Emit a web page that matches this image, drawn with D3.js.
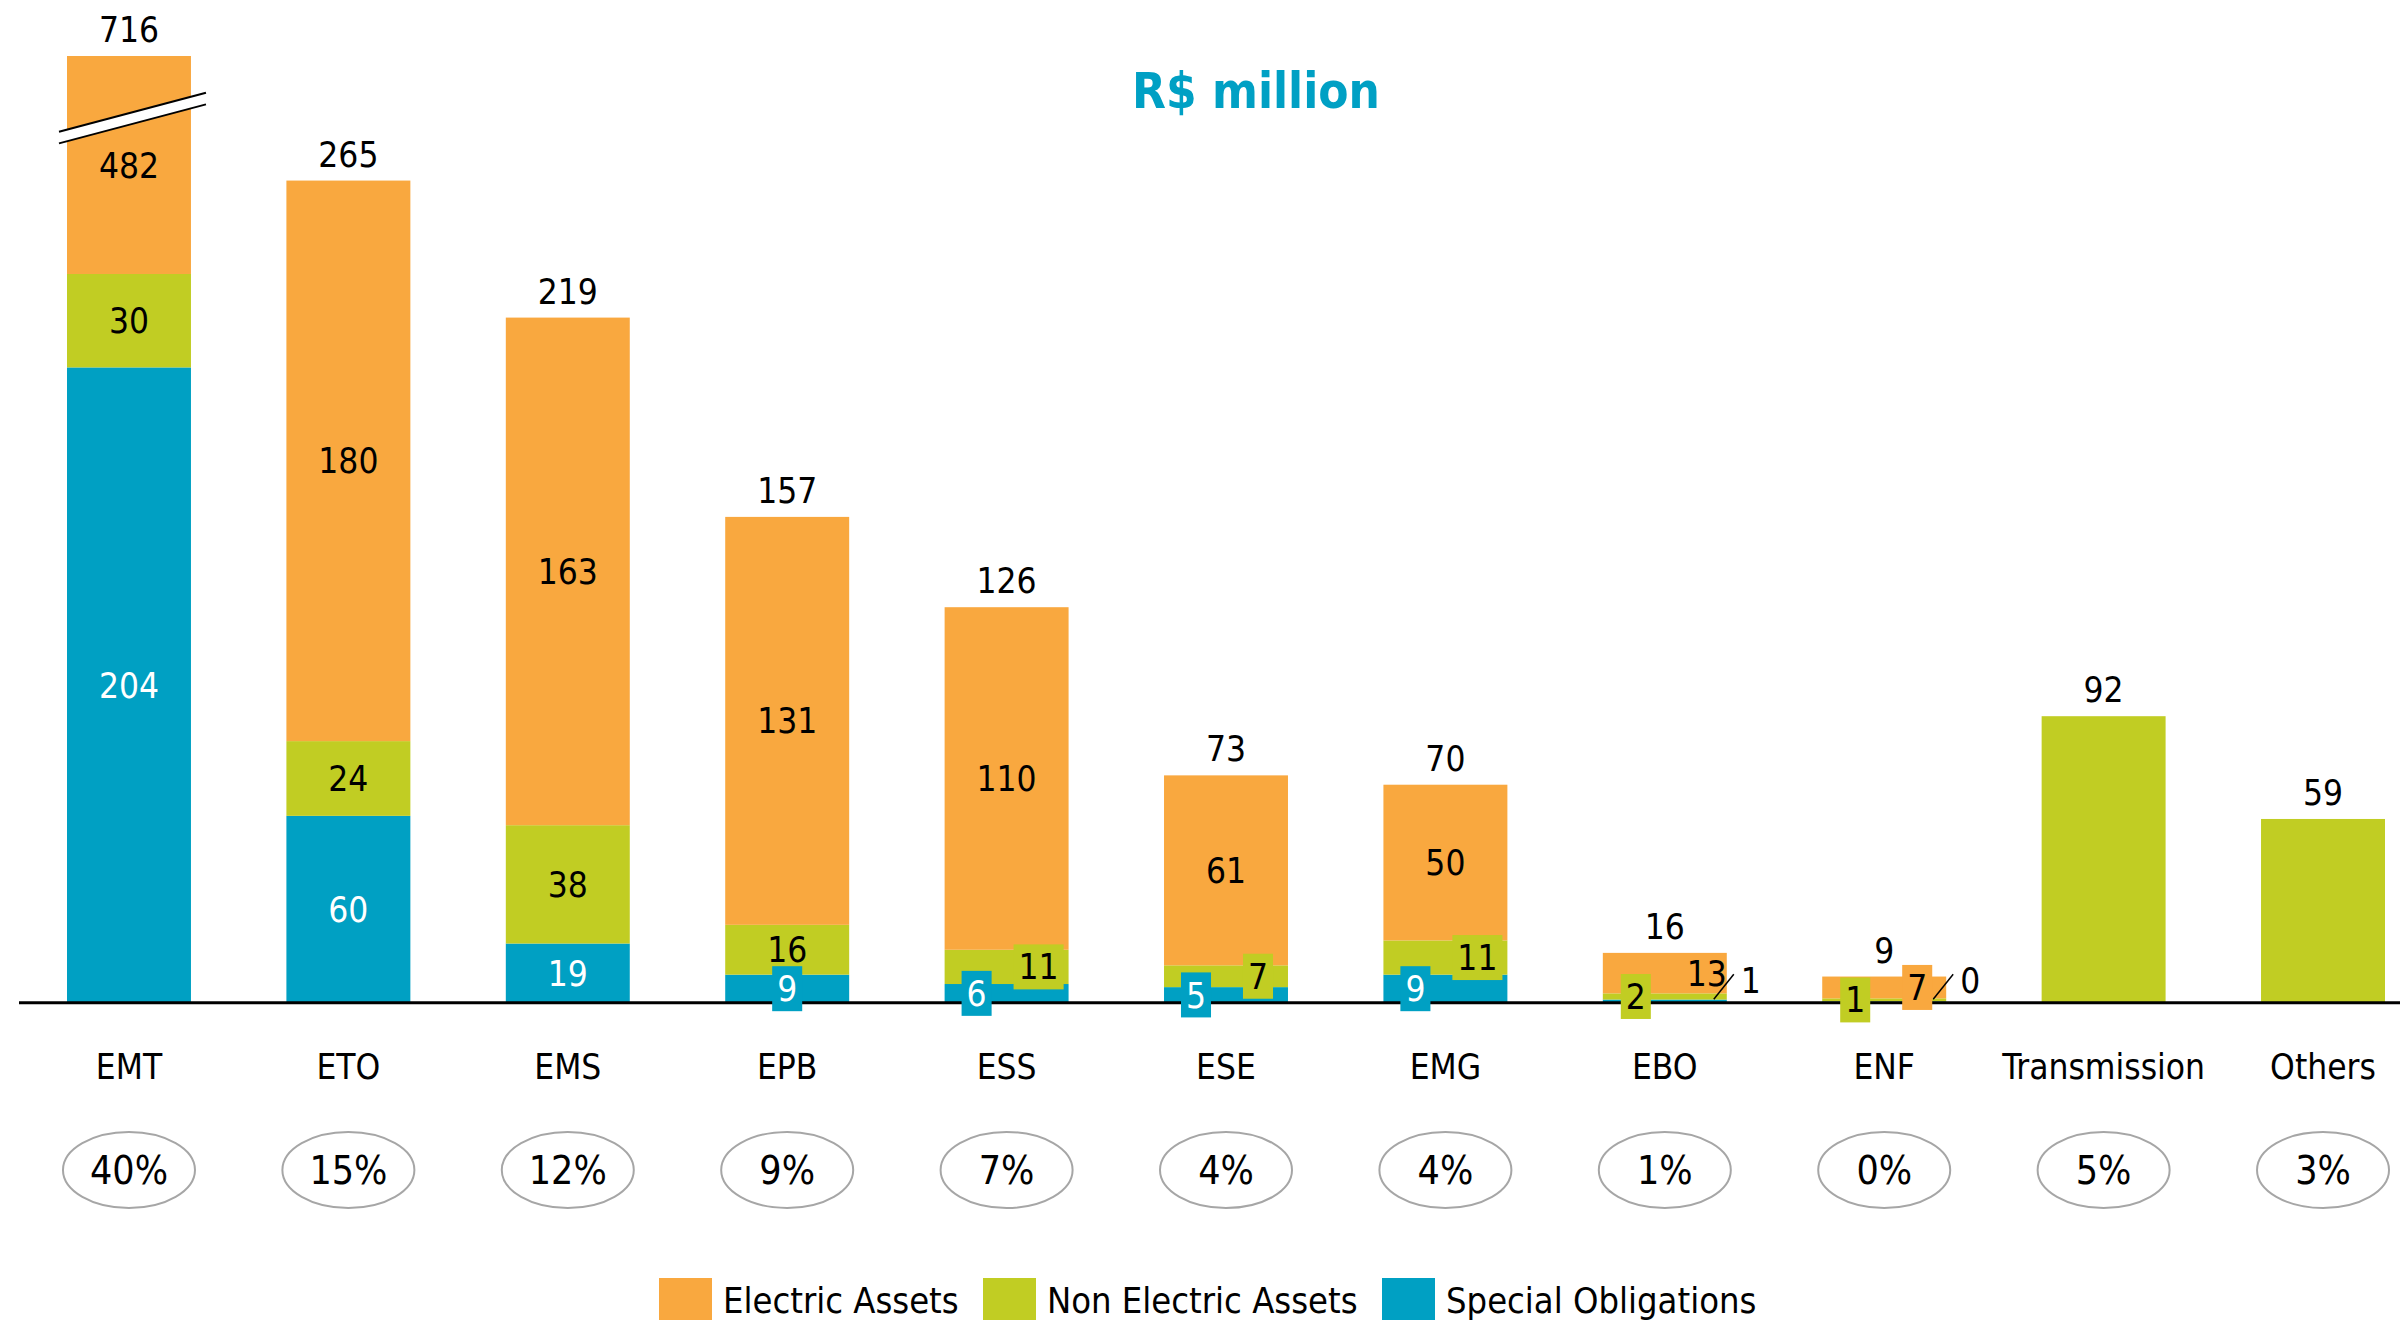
<!DOCTYPE html>
<html>
<head>
<meta charset="utf-8">
<script src="https://cdn.jsdelivr.net/npm/d3@7"></script>
<style>
  body { margin: 0; background: #fff; }
  svg text { font-family: "DejaVu Sans Condensed", "DejaVu Sans", sans-serif; font-stretch: condensed; }
</style>
</head>
<body>
<div id="chart"></div>
<script>
// data (R$ million)
const categories = ["EMT", "ETO", "EMS", "EPB", "ESS", "ESE", "EMG", "EBO", "ENF", "Transmission", "Others"];
const specialObligations = [204, 60, 19, 9, 6, 5, 9, 1, 0.4, 0, 0];
const nonElectricAssets = [30, 24, 38, 16, 11, 7, 11, 2, 1, 92, 59];
const electricAssets = [482, 180, 163, 131, 110, 61, 50, 13, 7, 0, 0];
const totals = [716, 265, 219, 157, 126, 73, 70, 16, 9, 92, 59];
const shares = ["40%", "15%", "12%", "9%", "7%", "4%", "4%", "1%", "0%", "5%", "3%"];
const seriesKeys = ["special", "nonElectric", "electric"];
const seriesNames = { electric: "Electric Assets", nonElectric: "Non Electric Assets", special: "Special Obligations" };
const legendOrder = ["electric", "nonElectric", "special"];

const colors = { electric: "#F9A83F", nonElectric: "#C1CD23", special: "#00A0C3" };

const svgWidth = 2400,
    svgHeight = 1320,
    baseY = 1002.7,
    breakCap = 304; // EMT bar is cut at this value (axis break)

// small-segment label tweaks: offset of the boxed label from bar centre, or another mode
const defaultDx = { special: -30, nonElectric: 32, electric: 33 };
const labelTweaks = {
    "EPB|special": { dx: 0 },
    "EBO|nonElectric": { dx: -29 },
    "ENF|nonElectric": { dx: -29 },
    "EBO|electric": { mode: "plain", dx: 42 },
    "EBO|special": { mode: "leader" },
    "ENF|special": { mode: "leader" }
};

let rows = categories.map((c, i) => ({
    cat: c,
    special: specialObligations[i],
    nonElectric: nonElectricAssets[i],
    electric: electricAssets[i],
    total: totals[i],
    share: shares[i]
}));

let svg = d3.select("#chart").append("svg")
    .attr("width", svgWidth)
    .attr("height", svgHeight);

let xScale = d3.scaleBand()
    .domain(categories)
    .range([67, 2385])
    .paddingInner(0.435)
    .paddingOuter(0);

let yScale = d3.scaleLinear()
    .domain([0, breakCap])
    .range([baseY, 56])
    .clamp(true);

let stacked = d3.stack().keys(seriesKeys)(rows);

// bars
let layers = svg.append("g").selectAll("g")
    .data(stacked)
    .join("g")
    .attr("fill", (d) => colors[d.key]);

layers.selectAll("rect")
    .data((d) => d)
    .join("rect")
    .attr("x", (d) => xScale(d.data.cat))
    .attr("y", (d) => yScale(d[1]))
    .attr("width", xScale.bandwidth())
    .attr("height", (d) => yScale(d[0]) - yScale(d[1]));

// axis break on the EMT bar
let bx0 = xScale("EMT") - 8,
    bx1 = xScale("EMT") + xScale.bandwidth() + 15,
    bcx = xScale("EMT") + xScale.bandwidth() / 2,
    bcy = yScale(breakCap) + 63,
    slope = -0.265,
    gap = 5.8;
let by = (x, off) => bcy + slope * (x - bcx) + off;
svg.append("polygon")
    .attr("points", [[bx0, by(bx0, -gap)], [bx1, by(bx1, -gap)], [bx1, by(bx1, gap)], [bx0, by(bx0, gap)]].join(" "))
    .attr("fill", "#fff");
[-gap, gap].forEach((off) => {
    svg.append("line")
        .attr("x1", bx0).attr("y1", by(bx0, off))
        .attr("x2", bx1).attr("y2", by(bx1, off))
        .attr("stroke", "#000")
        .attr("stroke-width", 2);
});

// baseline
svg.append("line")
    .attr("x1", 19).attr("x2", svgWidth)
    .attr("y1", baseY).attr("y2", baseY)
    .attr("stroke", "#000")
    .attr("stroke-width", 3);

// segment labels
let labelG = svg.append("g").attr("font-size", 35);
stacked.forEach((layer) => {
    layer.forEach((d) => {
        let row = d.data;
        let single = seriesKeys.filter((k) => row[k] > 0).length < 2;
        if (single) return;
        let key = layer.key,
            value = Math.round(row[key]),
            top = yScale(d[1]),
            bottom = yScale(d[0]),
            h = bottom - top,
            cx = xScale(row.cat) + xScale.bandwidth() / 2,
            cy = (top + bottom) / 2,
            tweak = labelTweaks[row.cat + "|" + key] || {},
            textColor = key === "special" ? "#fff" : "#000";

        if (tweak.mode === "leader") {
            let right = xScale(row.cat) + xScale.bandwidth();
            labelG.append("line")
                .attr("x1", right - 13).attr("y1", baseY - 3.5)
                .attr("x2", right + 7).attr("y2", baseY - 28.5)
                .attr("stroke", "#000")
                .attr("stroke-width", 1.5);
            labelG.append("text")
                .attr("x", right + 14)
                .attr("y", baseY - 10)
                .attr("fill", "#000")
                .text(value);
        } else if (h >= 45 || tweak.mode === "plain") {
            labelG.append("text")
                .attr("x", cx + (tweak.dx || 0))
                .attr("y", cy)
                .attr("dy", "0.36em")
                .attr("text-anchor", "middle")
                .attr("fill", textColor)
                .text(value);
        } else {
            let dx = tweak.dx !== undefined ? tweak.dx : defaultDx[key];
            let g = labelG.append("g");
            let t = g.append("text")
                .attr("x", cx + dx)
                .attr("y", cy)
                .attr("dy", "0.36em")
                .attr("text-anchor", "middle")
                .attr("fill", textColor)
                .text(value);
            let w = t.node().getComputedTextLength() + 10;
            g.insert("rect", "text")
                .attr("x", cx + dx - w / 2)
                .attr("y", cy - 22.5)
                .attr("width", w)
                .attr("height", 45)
                .attr("fill", colors[key]);
        }
    });
});

// totals above bars
svg.append("g").selectAll("text")
    .data(rows)
    .join("text")
    .attr("x", (d) => xScale(d.cat) + xScale.bandwidth() / 2)
    .attr("y", (d) => yScale(d.special + d.nonElectric + d.electric) - 14)
    .attr("text-anchor", "middle")
    .attr("font-size", 35)
    .attr("fill", "#000")
    .text((d) => d.total);

// category labels
let xAxis = svg.append("g")
    .attr("transform", `translate(0, ${baseY})`)
    .call(d3.axisBottom(xScale).tickSize(0).tickPadding(51.5));
xAxis.select(".domain").remove();
xAxis.selectAll("text")
    .attr("font-size", 35)
    .attr("font-family", null)
    .attr("fill", "#000");

// share ovals
let ovals = svg.append("g").selectAll("g")
    .data(rows)
    .join("g")
    .attr("transform", (d) => `translate(${xScale(d.cat) + xScale.bandwidth() / 2}, 1170)`);
ovals.append("ellipse")
    .attr("rx", 66)
    .attr("ry", 38)
    .attr("fill", "#fff")
    .attr("stroke", "#A6A6A6")
    .attr("stroke-width", 2);
ovals.append("text")
    .attr("y", 14)
    .attr("text-anchor", "middle")
    .attr("font-size", 39)
    .attr("fill", "#000")
    .text((d) => d.share);

// title
svg.append("text")
    .attr("x", 1256)
    .attr("y", 108)
    .attr("text-anchor", "middle")
    .attr("font-size", 49)
    .attr("font-weight", "bold")
    .attr("fill", "#00A0C4")
    .text("R$ million");

// legend
let legendX = [659, 983, 1382];
let legend = svg.append("g").selectAll("g")
    .data(legendOrder)
    .join("g")
    .attr("transform", (d, i) => `translate(${legendX[i]}, 1278)`);
legend.append("rect")
    .attr("width", 53)
    .attr("height", 44)
    .attr("fill", (d) => colors[d]);
legend.append("text")
    .attr("x", 64)
    .attr("y", 35)
    .attr("font-size", 36)
    .attr("fill", "#000")
    .text((d) => seriesNames[d]);
</script>
</body>
</html>
